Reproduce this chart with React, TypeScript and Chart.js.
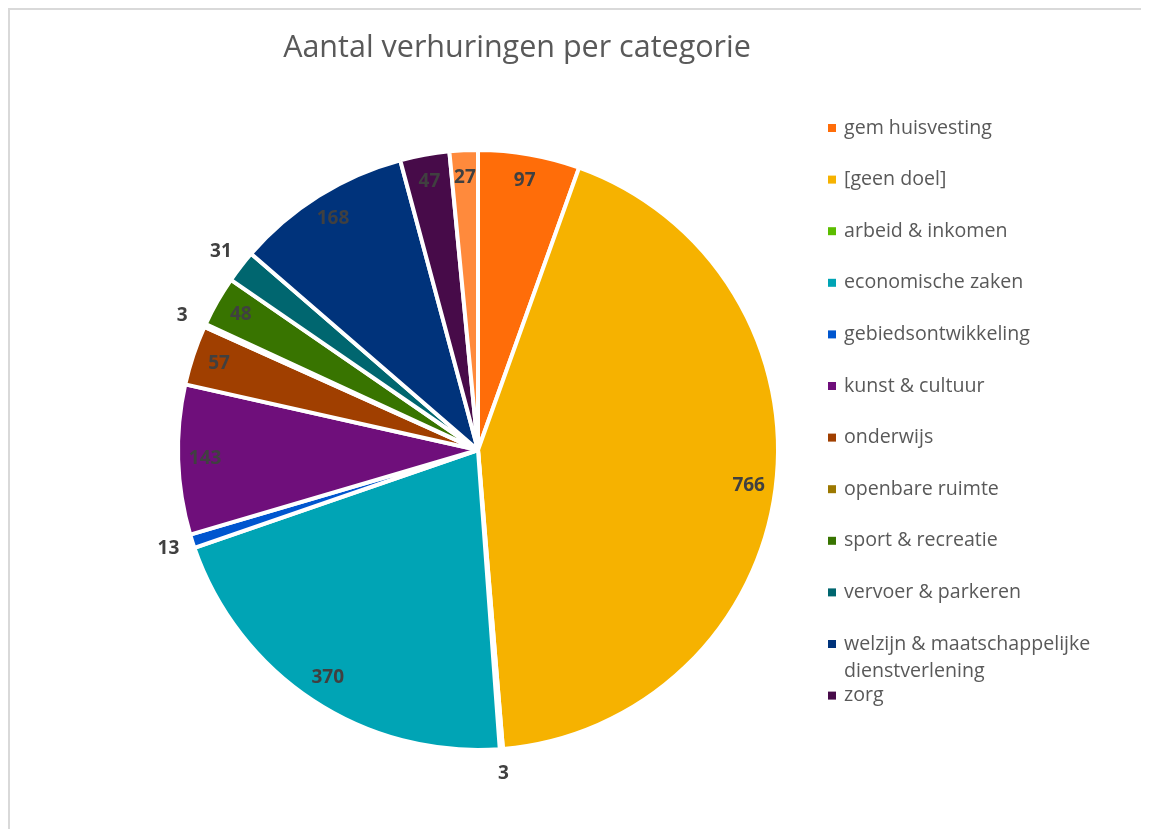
import React, { useEffect, useRef } from "react";
import { Chart, registerables } from "chart.js";

Chart.register(...registerables);

const TITLE = "Aantal verhuringen per categorie";

const CATEGORIES = [
  "gem huisvesting",
  "[geen doel]",
  "arbeid & inkomen",
  "economische zaken",
  "gebiedsontwikkeling",
  "kunst & cultuur",
  "onderwijs",
  "openbare ruimte",
  "sport & recreatie",
  "vervoer & parkeren",
  "welzijn & maatschappelijke dienstverlening",
  "zorg",
  "overig",
];

const VALUES = [97, 766, 3, 370, 13, 143, 57, 3, 48, 31, 168, 47, 27];

const COLORS = [
  "#FF6D09",
  "#F6B200",
  "#5CBD00",
  "#00A4B5",
  "#0056CF",
  "#6F0F7B",
  "#A03F00",
  "#9C7800",
  "#387400",
  "#00666F",
  "#00337B",
  "#470B49",
  "#FF8A3C",
];

// categories whose value label sits outside the pie
const OUTSIDE_LABELS = ["arbeid & inkomen", "gebiedsontwikkeling", "openbare ruimte", "vervoer & parkeren"];

const TEXT_FONT = "'Open Sans', 'Noto Sans', sans-serif";

function wrapText(ctx: CanvasRenderingContext2D, text: string, maxWidth: number): string[] {
  const words = text.split(" ");
  const lines: string[] = [];
  let cur = "";
  for (const w of words) {
    const test = cur ? cur + " " + w : w;
    if (ctx.measureText(test).width > maxWidth && cur) {
      lines.push(cur);
      cur = w;
    } else {
      cur = test;
    }
  }
  if (cur) lines.push(cur);
  return lines;
}

const overlayPlugin = {
  id: "overlay",
  afterDraw(chart: any) {
    const ctx: CanvasRenderingContext2D = chart.ctx;
    const area = chart.chartArea;
    const meta = chart.getDatasetMeta(0);
    ctx.save();

    // value labels
    ctx.font = `bold 19px ${TEXT_FONT}`;
    ctx.fillStyle = "#404040";
    ctx.textAlign = "center";
    ctx.textBaseline = "middle";
    meta.data.forEach((arc: any, i: number) => {
      const p = arc.getProps(["x", "y", "startAngle", "endAngle", "outerRadius"], true);
      const mid = (p.startAngle + p.endAngle) / 2;
      const outside = OUTSIDE_LABELS.includes(CATEGORIES[i]);
      const r = outside ? p.outerRadius + 25 : p.outerRadius * 0.91;
      ctx.fillText(String(VALUES[i]), p.x + Math.cos(mid) * r, p.y + Math.sin(mid) * r);
    });

    // title
    ctx.font = `30.5px ${TEXT_FONT}`;
    ctx.fillStyle = "#595959";
    ctx.textAlign = "center";
    ctx.textBaseline = "middle";
    ctx.fillText(TITLE, 509, 40);

    // legend (right side, clipped like the original)
    ctx.font = `19.6px ${TEXT_FONT}`;
    ctx.textAlign = "left";
    const boxX = area.right + 48;
    const textX = boxX + 16;
    const maxW = 1141 - textX - 8;
    const step = 51.6;
    const firstY = 120;
    const limitY = 720;
    for (let i = 0; i < CATEGORIES.length; i++) {
      const y = firstY + i * step;
      if (y > limitY) break;
      ctx.fillStyle = COLORS[i];
      ctx.fillRect(boxX, y - 4, 8, 8);
      ctx.fillStyle = "#595959";
      const lines = wrapText(ctx, CATEGORIES[i], maxW);
      lines.forEach((ln, k) => ctx.fillText(ln, textX, y + k * 27));
    }
    ctx.restore();
  },
};

export default function App() {
  const ref = useRef<HTMLCanvasElement | null>(null);
  useEffect(() => {
    document.documentElement.style.overflow = "hidden";
    document.body.style.overflow = "hidden";
    if (!ref.current) return;
    const chart = new Chart(ref.current, {
      type: "pie",
      data: {
        labels: CATEGORIES,
        datasets: [
          {
            data: VALUES,
            backgroundColor: COLORS,
            borderColor: "#ffffff",
            borderWidth: 4,
          },
        ],
      },
      options: {
        animation: false,
        responsive: true,
        maintainAspectRatio: false,
        events: [],
        layout: { padding: { left: 168, right: 388, top: 140, bottom: 96 } },
        plugins: {
          legend: { display: false },
          title: { display: false },
          tooltip: { enabled: false },
        },
      },
      plugins: [overlayPlugin],
    });
    return () => chart.destroy();
  }, []);

  return (
    <div style={{ position: "relative", width: 1160, height: 840, background: "#fff" }}>
      <div
        style={{
          position: "absolute",
          left: 0,
          top: 0,
          width: "100%",
          height: "100%",
          boxSizing: "border-box",
          borderTop: "2px solid #d9d9d9",
          borderLeft: "2px solid #d9d9d9",
        }}
      />
      <div style={{ position: "absolute", left: 0, top: 0, width: 1160, height: 840 }}>
        <canvas ref={ref} />
      </div>
    </div>
  );
}
